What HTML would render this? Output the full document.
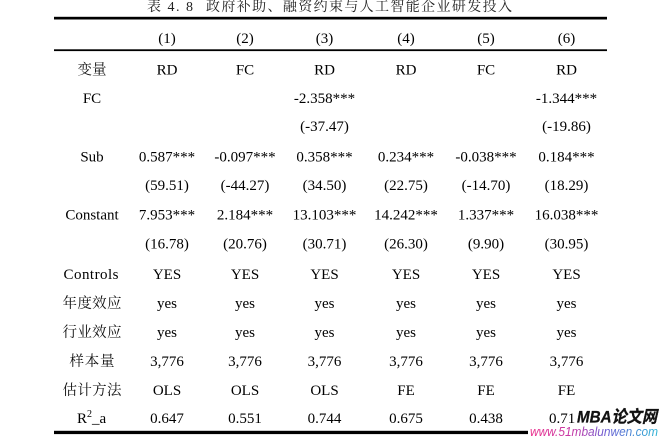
<!DOCTYPE html>
<html><head><meta charset="utf-8"><style>
html,body{margin:0;padding:0;background:#fff;}
svg{display:block;}
.t{font-family:"Liberation Serif","Noto Serif CJK SC",serif;font-size:15px;fill:#000;text-anchor:middle;}
.c{font-family:"Liberation Serif","Noto Serif CJK SC",serif;font-size:14.5px;fill:#111;text-anchor:middle;}
</style></head><body>
<svg width="661" height="437" viewBox="0 0 661 437" xmlns="http://www.w3.org/2000/svg">
<defs>
<linearGradient id="wg" x1="530" y1="0" x2="658" y2="0" gradientUnits="userSpaceOnUse">
<stop offset="0" stop-color="#ec2f8c"/><stop offset="0.35" stop-color="#c23aa8"/><stop offset="0.6" stop-color="#6a5fd4"/><stop offset="1" stop-color="#2fb6d6"/>
</linearGradient>
</defs>
<!-- title -->
<text x="147" y="11" font-family="Liberation Serif,'Noto Serif CJK SC',serif" font-size="14" fill="#222" textLength="46" lengthAdjust="spacing">表 4. 8</text>
<text x="206" y="11" font-family="'Noto Serif CJK SC',serif" font-size="14" fill="#222" textLength="306" lengthAdjust="spacing">政府补助、融资约束与人工智能企业研发投入</text>
<!-- rules -->
<rect x="54" y="16.8" width="553" height="2.7" fill="#000"/>
<rect x="54" y="49.3" width="553" height="1.8" fill="#000"/>
<rect x="54" y="430.8" width="474" height="3.3" fill="#000"/>
<!-- header -->
<g class="t">
<text x="167" y="43">(1)</text><text x="245" y="43">(2)</text><text x="324.5" y="43">(3)</text><text x="406" y="43">(4)</text><text x="486" y="43">(5)</text><text x="566.5" y="43">(6)</text>
</g>
<!-- row 1 -->
<text class="c" x="92" y="74.5">变量</text>
<g class="t">
<text x="167" y="74.5">RD</text><text x="245" y="74.5">FC</text><text x="324.5" y="74.5">RD</text><text x="406" y="74.5">RD</text><text x="486" y="74.5">FC</text><text x="566.5" y="74.5">RD</text>
<!-- FC row -->
<text x="92" y="103">FC</text>
<text x="324.5" y="103">-2.358***</text><text x="566.5" y="103">-1.344***</text>
<text x="324.5" y="131">(-37.47)</text><text x="566.5" y="131">(-19.86)</text>
<!-- Sub -->
<text x="92" y="161.5">Sub</text>
<text x="167" y="161.5">0.587***</text><text x="245" y="161.5">-0.097***</text><text x="324.5" y="161.5">0.358***</text><text x="406" y="161.5">0.234***</text><text x="486" y="161.5">-0.038***</text><text x="566.5" y="161.5">0.184***</text>
<text x="167" y="190">(59.51)</text><text x="245" y="190">(-44.27)</text><text x="324.5" y="190">(34.50)</text><text x="406" y="190">(22.75)</text><text x="486" y="190">(-14.70)</text><text x="566.5" y="190">(18.29)</text>
<!-- Constant -->
<text x="92" y="219.5">Constant</text>
<text x="167" y="219.5">7.953***</text><text x="245" y="219.5">2.184***</text><text x="324.5" y="219.5">13.103***</text><text x="406" y="219.5">14.242***</text><text x="486" y="219.5">1.337***</text><text x="566.5" y="219.5">16.038***</text>
<text x="167" y="248.5">(16.78)</text><text x="245" y="248.5">(20.76)</text><text x="324.5" y="248.5">(30.71)</text><text x="406" y="248.5">(26.30)</text><text x="486" y="248.5">(9.90)</text><text x="566.5" y="248.5">(30.95)</text>
<!-- Controls -->
<text x="91" y="279" textLength="55" lengthAdjust="spacing">Controls</text>
<text x="167" y="279">YES</text><text x="245" y="279">YES</text><text x="324.5" y="279">YES</text><text x="406" y="279">YES</text><text x="486" y="279">YES</text><text x="566.5" y="279">YES</text>
<text x="167" y="308">yes</text><text x="245" y="308">yes</text><text x="324.5" y="308">yes</text><text x="406" y="308">yes</text><text x="486" y="308">yes</text><text x="566.5" y="308">yes</text>
<text x="167" y="337">yes</text><text x="245" y="337">yes</text><text x="324.5" y="337">yes</text><text x="406" y="337">yes</text><text x="486" y="337">yes</text><text x="566.5" y="337">yes</text>
<text x="167" y="366">3,776</text><text x="245" y="366">3,776</text><text x="324.5" y="366">3,776</text><text x="406" y="366">3,776</text><text x="486" y="366">3,776</text><text x="566.5" y="366">3,776</text>
<text x="167" y="395">OLS</text><text x="245" y="395">OLS</text><text x="324.5" y="395">OLS</text><text x="406" y="395">FE</text><text x="486" y="395">FE</text><text x="566.5" y="395">FE</text>
<text x="167" y="423">0.647</text><text x="245" y="423">0.551</text><text x="324.5" y="423">0.744</text><text x="406" y="423">0.675</text><text x="486" y="423">0.438</text>
</g>
<text x="549" y="423" font-family="Liberation Serif,serif" font-size="15" fill="#000">0.71</text>
<text class="c" x="92" y="308" textLength="59" lengthAdjust="spacing">年度效应</text>
<text class="c" x="92" y="337" textLength="59" lengthAdjust="spacing">行业效应</text>
<text class="c" x="92" y="366" textLength="45" lengthAdjust="spacing">样本量</text>
<text class="c" x="92" y="395" textLength="59" lengthAdjust="spacing">估计方法</text>
<text x="77" y="423" font-family="Liberation Serif,serif" font-size="15" fill="#000">R<tspan font-size="10" dy="-6">2</tspan><tspan dy="6">_a</tspan></text>
<!-- watermark -->
<text x="577" y="422.5" font-family="Liberation Sans,'Noto Sans CJK SC',sans-serif" font-size="17" font-weight="bold" font-style="italic" fill="#111" stroke="#111" stroke-width="0.3" textLength="80" lengthAdjust="spacingAndGlyphs">MBA论文网</text>
<text x="530" y="436" font-family="Liberation Sans,sans-serif" font-size="13" font-style="italic" fill="url(#wg)" textLength="128" lengthAdjust="spacingAndGlyphs">www.51mbalunwen.com</text>
</svg>
</body></html>
